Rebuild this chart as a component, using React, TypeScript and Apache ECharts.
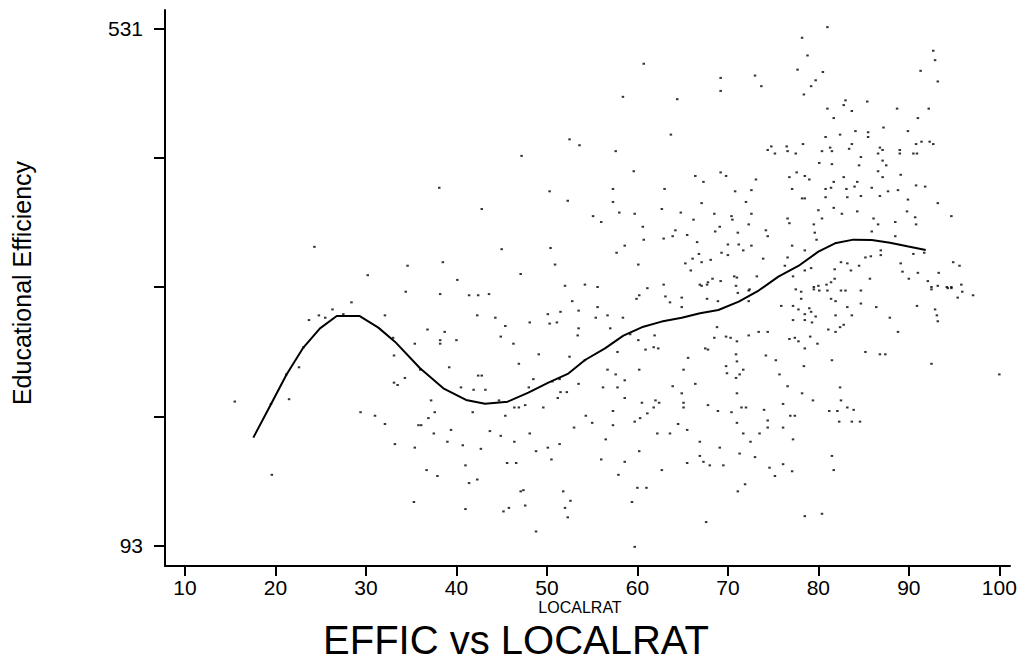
import React, { useEffect, useRef } from "react";
import * as echarts from "echarts";

const scatterPoints: [number, number][] = [
  [52.5,437],[53.6,432],[47.2,423],[38.1,396],[50.3,393],[52.3,385],[42.8,378],[24.3,346],[45.0,344],[50.4,345],[34.6,330],[38.5,333],[50.9,331],[30.2,322],[40.1,318],[47.1,323],[52.0,313],[54.2,314],
  [34.4,308],[38.2,306],[41.4,305],[42.4,305],[43.6,306],[28.4,299],[26.3,293],[24.8,288],[23.7,284],[25.5,286],[27.5,289],[32.1,288],[42.3,288],[44.3,286],[45.4,279],[48.1,282],[50.1,289],[50.3,281],[51.1,282],[51.5,291],[52.8,300],[53.5,292],[53.5,277],[53.4,271],[36.8,276],[38.7,274],[44.9,270],[38.2,267],[38.2,264],[40.0,267],[35.4,264],[33.0,269],[46.3,264],[49.1,255],[52.5,253],[33.1,254],[23.1,261],[22.6,244],[21.2,238],[46.9,247],[39.2,244],[36.0,242],[34.3,235],[42.4,237],[42.8,237],[48.5,234],[50.6,232],[51.4,234],[54.2,250],[33.1,231],[33.5,229],[40.5,227],[41.9,225],[43.2,225],[48.0,227],[51.5,223],[52.2,223],[53.5,230],[51.2,218],[15.5,215],[21.5,217],[19.5,213],[37.2,216],[44.7,216],[46.4,210],[46.9,210],[47.6,212],[49.6,210],[29.4,206],[31.0,203],[37.6,206],[41.8,206],[45.4,203],[54.3,203],[32.1,196],[35.8,195],[36.1,195],[36.9,201],[39.4,191],[43.7,190],[44.9,186],[37.5,188],[48.1,188],[53.0,193],[39.0,181],[46.4,181],[33.2,179],[35.4,176],[40.7,178],[42.7,175],[50.1,176],[48.8,173],[51.4,179],[50.5,166],[45.6,163],[46.6,163],[41.0,161],[36.7,157],[37.9,152],[19.6,153],[42.3,149],[41.4,146],[47.1,139],[47.4,140],[51.8,139],[52.6,131],[35.3,130],[47.6,127],[41.0,124],[45.2,122],[45.8,125],[52.0,125],[52.3,117],[48.8,105],
  [55.6,312],[61.1,311],[62.9,314],[66.9,314],[67.7,314],[59.9,302],[60.2,305],[63.1,304],[63.6,299],[64.9,303],[64.9,295],[67.7,302],[68.9,300],[55.6,295],[55.4,286],[56.7,288],[58.4,286],[57.0,277],[59.2,272],[60.1,267],[61.9,271],[60.9,259],[61.8,261],[62.3,260],[57.8,257],[56.7,242],[57.6,238],[58.6,233],[60.2,242],[56.2,227],[57.8,227],[58.6,218],[55.0,197],[57.3,207],[57.3,195],[59.7,198],[60.3,201],[60.5,214],[61.1,205],[61.8,210],[62.0,216],[62.4,214],[56.5,183],[56.0,166],[58.6,164],[57.9,153],[60.2,173],[60.0,142],[61.0,142],[59.4,130],[59.7,92],[62.2,188],[63.6,188],[62.7,157],[63.9,228],[64.9,222],[66.4,230],[65.1,214],[65.1,210],[64.5,196],[65.5,191],[65.5,163],[65.6,252],[65.1,242],[67.5,260],[67.8,259],[66.9,181],[66.9,169],[67.3,164],[68.0,161],[67.6,113],[67.8,212],[68.9,207],[68.8,278],[68.5,269],[69.1,176],[69.5,161],[69.8,270],[70.3,269],[71.0,266],[70.9,255],[71.0,249],[69.8,245],[69.9,239],[70.9,235],[71.3,238],[71.7,242],[71.0,222],[70.4,206],[71.0,197],[71.5,210],[72.0,210],[71.7,188],[72.5,181],[71.3,171],[73.0,168],[71.1,139],[71.9,145],[72.3,271],[73.4,274],[74.4,274],[71.1,307],[72.3,309],[72.3,300],[74.2,254],[75.3,250],[75.7,238],[74.0,208],[74.4,199],[74.4,193],[73.5,188],[74.6,159],[75.2,152],[76.1,213],[76.9,203],[77.4,203],[76.1,193],[77.2,183],[76.1,162],[77.1,156],[76.6,228],[78.2,222],[79.4,216],[78.4,245],[76.8,268],[77.4,269],[77.8,266],[78.5,260],[79.1,270],[79.9,264],[77.2,284],[78.5,284],[79.3,282],[75.9,296],[77.2,296],[77.8,293],[78.5,289],[79.0,294],[79.7,287],[79.2,291],[77.5,310],[78.1,308],[78.1,302],[79.5,310],[80.1,309],[81.0,309],[81.4,302],[81.9,300],[82.5,309],[83.0,309],[81.9,288],[81.1,276],[81.9,274],[82.4,278],[82.8,280],[83.2,295],[83.7,288],[84.7,309],[84.7,298],[81.5,250],[82.4,227],[82.5,216],[83.2,210],[83.9,208],[81.2,207],[82.1,207],[82.3,198],[83.7,198],[84.6,198],[81.5,169],[81.7,157],[78.5,118],[80.4,120],[85.2,257],[86.4,295],[86.8,255],[87.4,255],[87.9,286],[88.8,274],[90.9,296],[92.5,310],[92.9,293],[93.1,288],[93.2,283],[92.5,247],[94.3,311],[94.7,311],[95.4,303],[95.9,308],[97.1,305],[100.0,238],
  [81.0,532],[78.2,523],[78.8,508],[77.7,496],[80.5,494],[79.7,487],[79.2,482],[78.4,475],[60.7,501],[58.4,473],[64.4,471],[69.2,489],[69.2,478],[73.0,491],[73.7,482],[92.7,512],[92.9,504],[91.3,495],[93.2,486],[83.0,470],[82.8,466],[83.7,461],[85.4,469],[81.0,463],[81.7,455],[88.7,463],[92.2,463],[91.0,455],[63.7,441],[87.2,447],[89.9,444],[80.8,439],[82.4,441],[84.1,444],[85.5,443],[85.5,439],[83.7,433],[78.3,433],[57.6,427],[74.8,431],[74.4,428],[75.2,425],[76.5,431],[76.6,427],[77.5,425],[80.4,427],[81.3,430],[81.5,427],[83.4,429],[84.7,422],[86.8,430],[87.1,428],[86.6,425],[89.0,428],[89.0,425],[90.5,425],[90.9,425],[90.8,433],[91.4,435],[92.3,435],[92.7,433],[80.1,417],[81.5,416],[84.5,415],[87.1,419],[87.5,415],[59.6,410],[66.4,406],[69.2,409],[69.8,406],[67.3,401],[73.1,403],[76.8,405],[77.6,409],[78.5,406],[79.0,403],[81.7,401],[82.8,405],[84.3,401],[86.6,410],[87.1,405],[89.1,407],[90.8,398],[91.8,397],[57.3,395],[63.0,395],[70.8,393],[72.6,394],[77.1,395],[80.8,395],[81.4,396],[83.1,395],[84.0,397],[84.7,389],[85.9,396],[86.8,389],[87.7,393],[88.8,394],[78.2,387],[78.5,387],[80.8,388],[83.2,388],[89.9,386],[93.2,383],[57.3,384],[62.7,378],[67.1,383],[72.0,384],[80.0,377],[80.4,370],[81.7,379],[82.6,374],[84.3,376],[89.8,376],[90.7,371],[90.8,365],[94.7,372],[55.1,372],[56.0,367],[58.0,375],[59.7,374],[64.8,375],[68.5,374],[70.4,372],[70.5,369],[72.6,374],[76.6,370],[76.8,366],[79.5,365],[86.1,370],[86.6,365],[88.5,367],[60.6,363],[66.2,369],[64.2,360],[68.6,359],[69.1,363],[71.1,358],[72.3,365],[74.2,360],[74.4,355],[79.6,358],[79.8,352],[85.9,359],[88.5,355],[60.7,352],[62.9,353],[63.9,355],[65.5,356],[66.6,350],[58.6,347],[57.7,341],[69.3,341],[70.0,348],[70.0,339],[71.2,348],[71.7,343],[72.6,347],[66.8,340],[68.1,335],[67.1,333],[66.1,336],[73.9,336],[77.1,347],[78.5,343],[76.6,337],[85.2,337],[85.8,338],[86.9,339],[86.9,343],[90.5,340],[91.7,341],[60.1,331],[65.3,332],[65.9,326],[76.3,330],[78.5,326],[79.2,328],[81.8,327],[82.5,333],[83.2,332],[83.6,326],[84.5,330],[89.1,332],[89.3,325],[91.0,324],[93.3,324],[94.9,333],[95.6,330],[85.7,319],[90.0,319],[92.1,317],[92.5,312],[93.2,313],[94.2,312],[94.7,312],[95.8,314],[67.1,313],[67.8,316],[68.3,319],[69.2,317],[70.7,321],[71.0,320],[70.9,313],[73.2,321],[77.2,321],[79.5,312],[80.0,313],[80.9,314],[81.4,316],[81.8,319],[72.4,310]
];

// Smoothed fit line (LOCALRAT, EFFIC)
const fitX = [17.55,19.5,21.24,23.08,24.92,26.77,29.27,31.37,33.2,35.98,38.55,41.06,43.16,45.67,47.95,50.16,52.3,54.21,56.42,58.45,60.66,62.68,64.9,66.92,68.95,71.2,73.4,75.58,77.79,80.0,81.84,83.87,85.9,87.92,89.95,91.87];
const fitY = [184.5,212.7,238.1,260.7,277.0,287.5,287.5,277.6,265.7,243.2,226.2,216.4,213.2,214.9,222.6,231.0,238.4,250.2,260.1,270.8,278.4,282.7,286.0,289.7,292.5,299.6,309.0,320.8,329.8,341.9,349.0,352.1,351.8,349.5,346.2,343.3];

const xTicks = [10, 20, 30, 40, 50, 60, 70, 80, 90, 100];
const yTicks = [93, 202.5, 312, 421.5, 531];
const yLabels = [93, 531];

const FONT = "'Liberation Sans', Arial, sans-serif";

export default function App() {
  const ref = useRef<HTMLDivElement>(null);
  useEffect(() => {
    if (!ref.current) return;
    const chart = echarts.init(ref.current, undefined, { renderer: "svg" });
    chart.setOption({
      animation: false,
      backgroundColor: "#ffffff",
      grid: { left: 165, top: 10, right: 18, bottom: 95 },
      xAxis: {
        type: "value",
        min: 7.79,
        max: 101.18,
        splitLine: { show: false },
        axisLine: { show: true, onZero: false, lineStyle: { color: "#000", width: 2 } },
        axisTick: { show: true, length: 10, lineStyle: { color: "#000", width: 2 }, customValues: xTicks },
        axisLabel: { color: "#000", fontSize: 21, fontFamily: FONT, margin: 11, customValues: xTicks, formatter: (v: number) => String(Math.round(v)) },
      },
      yAxis: {
        type: "value",
        min: 75.8,
        max: 546.5,
        splitLine: { show: false },
        axisLine: { show: true, onZero: false, lineStyle: { color: "#000", width: 2 } },
        axisTick: { show: true, length: 11, lineStyle: { color: "#000", width: 2 }, customValues: yTicks },
        axisLabel: { color: "#000", fontSize: 21, fontFamily: FONT, margin: 22, customValues: yLabels, formatter: (v: number) => String(Math.round(v)) },
      },
      series: [
        {
          type: "scatter",
          data: scatterPoints,
          symbol: "rect",
          symbolSize: [2.5, 2],
          itemStyle: { color: "#000" },
          silent: true,
        },
        {
          type: "line",
          data: fitX.map((x, i) => [x, fitY[i]]),
          symbol: "none",
          lineStyle: { color: "#000", width: 2 },
          silent: true,
        },
      ],
      graphic: [
        { type: "text", x: 580, y: 607, style: { text: "LOCALRAT", fontSize: 16, fontFamily: FONT, fill: "#000", textAlign: "center", textVerticalAlign: "middle" } },
        { type: "text", x: 516, y: 640, style: { text: "EFFIC vs LOCALRAT", fontSize: 40, fontFamily: FONT, fill: "#000", textAlign: "center", textVerticalAlign: "middle" } },
        { type: "text", x: 22, y: 283, rotation: Math.PI / 2, style: { text: "Educational Efficiency", fontSize: 25, fontFamily: FONT, fill: "#000", textAlign: "center", textVerticalAlign: "middle" } },
      ],
    });
    return () => chart.dispose();
  }, []);
  return <div ref={ref} style={{ position: "fixed", left: 0, top: 0, width: 1028, height: 661 }} />;
}
